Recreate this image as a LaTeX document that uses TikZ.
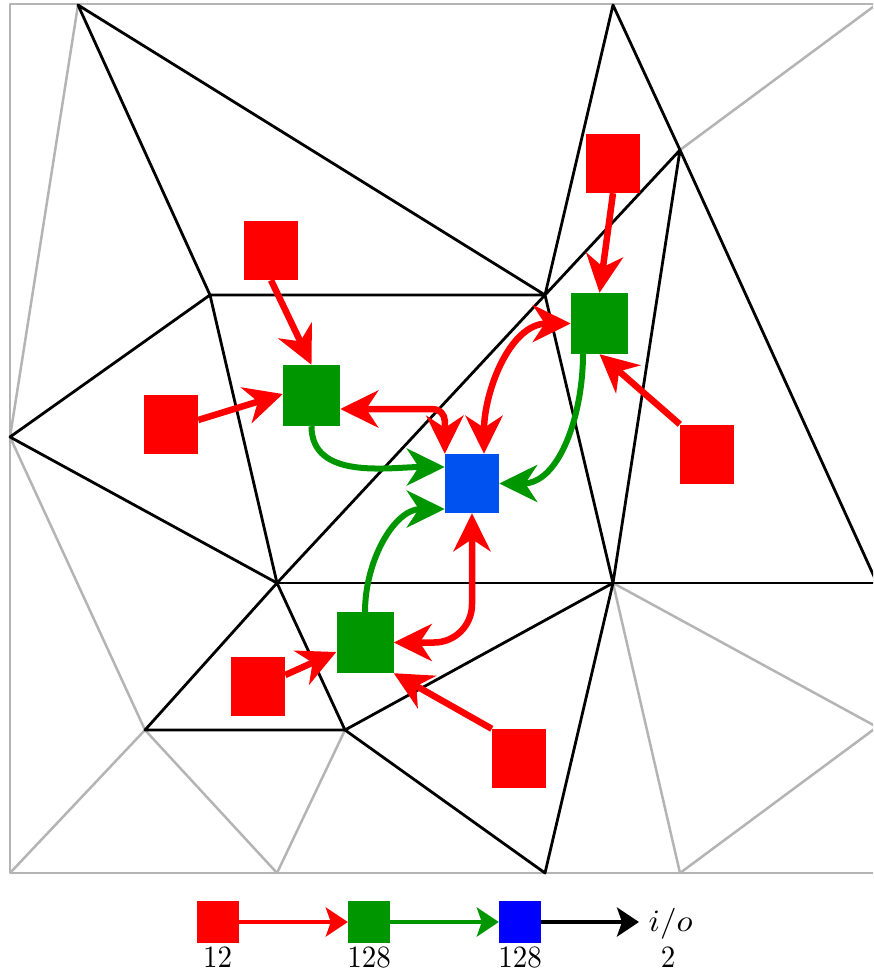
\documentclass[tikz,border=0pt]{standalone}
\usetikzlibrary{arrows.meta}
\definecolor{meshgray}{RGB}{180,180,180}
\definecolor{nred}{RGB}{255,0,0}
\definecolor{ngreen}{RGB}{0,150,0}
\definecolor{nblue}{RGB}{0,82,240}
\definecolor{lblue}{RGB}{0,0,255}
\tikzset{
  BigTip/.tip={Stealth[length=38pt,width=37pt,inset=12pt]},
  SmallTip/.tip={Stealth[length=22pt,width=29pt,inset=5pt]},
  meshb/.style={black,line width=2.8pt,line join=round,line cap=round},
  meshg/.style={meshgray,line width=2.5pt,line join=round},
  redsq/.style={fill=nred,draw=none,minimum width=54pt,minimum height=59pt,inner sep=0pt},
  greensq/.style={fill=ngreen,draw=none,minimum width=57pt,minimum height=61pt,inner sep=0pt},
  bluesq/.style={fill=nblue,draw=none,minimum width=54pt,minimum height=59pt,inner sep=0pt},
  legsq/.style={draw=none,minimum width=42pt,minimum height=42pt,inner sep=0pt},
  redarr/.style={nred,line width=6.5pt,-BigTip},
  redboth/.style={nred,line width=6.5pt,BigTip-BigTip},
  greenarr/.style={ngreen,line width=6pt,-BigTip},
  legarr/.style={line width=4pt,-SmallTip},
  lbl/.style={inner sep=0pt,xscale=2.9,yscale=3.1}
}
\begin{document}
\begin{tikzpicture}[x=1pt,y=1pt]
\useasboundingbox (0,0) rectangle (873,-972);
\begin{scope}
\clip (0,0) rectangle (873,-972);
% mesh vertices
\coordinate (A) at (78,-5);
\coordinate (B) at (613,-5);
\coordinate (C) at (10,-437);
\coordinate (D) at (210,-295);
\coordinate (E) at (545,-295);
\coordinate (F) at (680,-150);
\coordinate (G) at (277,-583);
\coordinate (H) at (613,-583);
\coordinate (I) at (877,-583);
\coordinate (J) at (145,-730);
\coordinate (K) at (345,-730);
\coordinate (L) at (545,-873);
\coordinate (M) at (680,-873);
\coordinate (N) at (277,-873);
\coordinate (O) at (10,-873);
\coordinate (P) at (877,-727);
\coordinate (Q) at (877,-4);
% gray part
\draw[meshg] (10,-4) rectangle (877,-873);
\draw[meshg] (A) -- (C) -- (J) -- (O);
\draw[meshg] (J) -- (N) -- (K);
\draw[meshg] (H) -- (M) -- (P) -- (H);
\draw[meshg] (F) -- (Q);
% black part
\draw[meshb] (A) -- (D) -- (E) -- (A);
\draw[meshb] (C) -- (D) -- (G) -- (C);
\draw[meshb] (G) -- (E) -- (B) -- (F) -- (E) -- (H) -- (F) -- (I);
\draw[meshb] (G) -- (H) -- (I);
\draw[meshb] (G) -- (J) -- (K) -- (G);
\draw[meshb] (K) -- (H) -- (L) -- (K);
\end{scope}
% nodes
\node[redsq] (r1) at (271,-250.5) {};
\node[redsq] (r2) at (171,-424.5) {};
\node[greensq] (g1) at (311.5,-395.5) {};
\node[bluesq] (b) at (472,-483.5) {};
\node[redsq] (r3) at (613,-163.5) {};
\node[greensq] (g2) at (599.5,-323.5) {};
\node[redsq] (r4) at (707,-454) {};
\node[greensq] (g3) at (365,-642.5) {};
\node[redsq] (r5) at (258,-686.5) {};
\node[redsq] (r6) at (519,-758.5) {};
% red inputs
\draw[redarr] (r1.south) -- (g1.north);
\draw[redarr] ([yshift=4.5pt]r2.east) -- ([yshift=1.5pt]g1.west);
\draw[redarr] (r3.south) -- (g2.north);
\draw[redarr] (r4.north west) -- (g2.south);
\draw[redarr] ([yshift=11.5pt]r5.east) -- ([yshift=-9.5pt]g3.west);
\draw[redarr] (r6.north west) -- (g3.south east);
% red exchanges
\draw[redboth,rounded corners=12pt] ([yshift=-13.5pt]g1.east) -| (b.north west);
\draw[redboth] (g2.west) to[out=180,in=90] ([xshift=12pt]b.north);
\draw[redboth,rounded corners=38pt] (g3.east) -| (b.south);
% green
\draw[greenarr] (g1.south) to[out=-90,in=180] ([yshift=16.5pt]b.west);
\draw[greenarr] ([xshift=-16.5pt]g2.south) to[out=-90,in=0] (b.east);
\draw[greenarr] (g3.north) to[out=90,in=180] ([yshift=-25.5pt]b.west);
% legend
\node[legsq,fill=nred] (lr) at (217.5,-922) {};
\node[legsq,fill=ngreen] (lg) at (369,-922) {};
\node[legsq,fill=lblue] (lb) at (520,-922) {};
\node[inner sep=0pt,xscale=3.3,yscale=3.1,anchor=west] (io) at (648,-924) {$i/o$};
\draw[legarr,nred] (lr) -- (lg);
\draw[legarr,ngreen] (lg) -- (lb);
\draw[legarr,black] (lb) -- ([xshift=-9pt]io.west |- lb.east);
\node[lbl] (t1) at (217.5,-957.5) {12};
\node[lbl] (t2) at (369,-957.5) {128};
\node[lbl] (t3) at (520,-957.5) {128};
\node[lbl] (t4) at (668,-957.5) {2};
\end{tikzpicture}
\end{document}
